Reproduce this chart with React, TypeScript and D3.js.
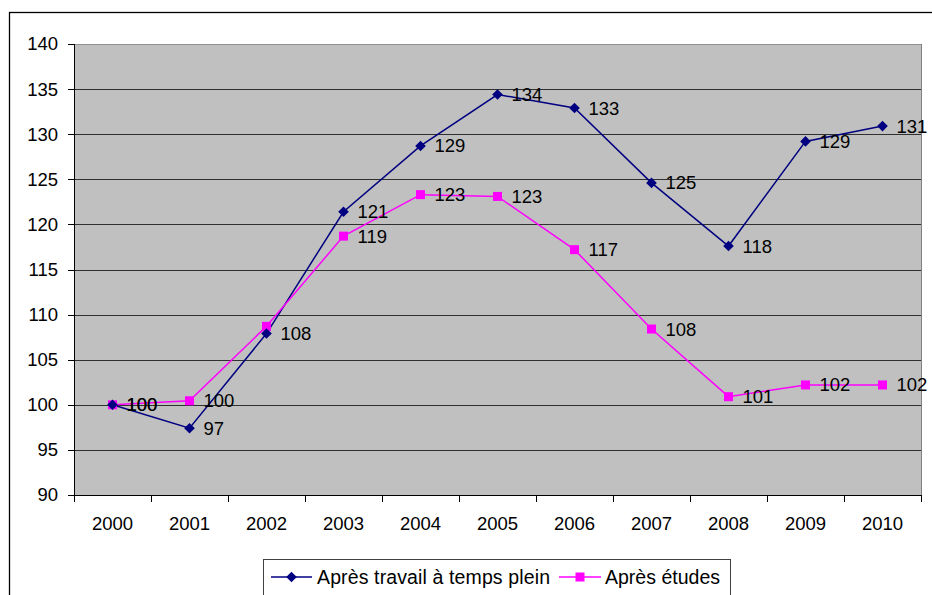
import React from "react";
import * as d3 from "d3";

const years = ["2000", "2001", "2002", "2003", "2004", "2005", "2006", "2007", "2008", "2009", "2010"];
const travailValues = [100, 97.4, 107.9, 121.4, 128.7, 134.4, 132.9, 124.6, 117.6, 129.2, 130.9];
const etudesValues = [100, 100.45, 108.7, 118.7, 123.3, 123.1, 117.2, 108.4, 100.9, 102.2, 102.2];
// data labels that Excel hid because they collided with the other series
const etudesHiddenLabels = ["2002"];
const yTicks = [90, 95, 100, 105, 110, 115, 120, 125, 130, 135, 140];
const seriesNames = ["Après travail à temps plein", "Après études"];

const W = 932;
const H = 595;
const plot = { left: 74, top: 44, right: 921, bottom: 495 };
const FONT = "Arial, 'Liberation Sans', sans-serif";
const FS = 18.5;
const NAVY = "#000080";
const MAGENTA = "#FF00FF";

export default function App() {
  const x = d3.scaleBand<string>().domain(years).range([plot.left, plot.right]);
  const y = d3.scaleLinear().domain([90, 140]).range([plot.bottom, plot.top]);
  const cx = (yr: string) => (x(yr) as number) + x.bandwidth() / 2;

  const line = d3
    .line<number>()
    .x((_, i) => cx(years[i]))
    .y((v) => y(v));

  const diamond = (px: number, py: number, r = 5.3) =>
    `M${px},${py - r}L${px + r},${py}L${px},${py + r}L${px - r},${py}Z`;

  const fmt = (v: number) => String(Math.round(v));

  const boundaries = years.map((yr) => x(yr) as number).concat([plot.right]);

  return (
    <svg
      width={W}
      height={H}
      style={{ position: "absolute", left: 0, top: 0, background: "#fff" }}
      fontFamily={FONT}
    >
      {/* chart frame */}
      <rect x={9.5} y={12.5} width={960} height={620} fill="#fff" stroke="#000" strokeWidth={1.3} />

      {/* plot area */}
      <rect x={plot.left} y={plot.top} width={plot.right - plot.left} height={plot.bottom - plot.top} fill="#C0C0C0" />
      {yTicks.map((t) => (
        <line key={"g" + t} x1={plot.left} x2={plot.right} y1={Math.round(y(t)) + 0.5} y2={Math.round(y(t)) + 0.5} stroke={t === 140 ? "#808080" : "#000"} strokeWidth={1} opacity={t === 90 ? 1 : 0.75} />
      ))}
      <line x1={plot.right + 0.5} x2={plot.right + 0.5} y1={plot.top} y2={plot.bottom} stroke="#808080" />

      {/* y axis */}
      <line x1={plot.left + 0.5} x2={plot.left + 0.5} y1={plot.top} y2={plot.bottom + 1} stroke="#000" />
      {yTicks.map((t) => (
        <g key={"yt" + t}>
          <line x1={plot.left - 6} x2={plot.left} y1={Math.round(y(t)) + 0.5} y2={Math.round(y(t)) + 0.5} stroke="#000" />
          <text x={plot.left - 16} y={y(t)} dy="0.35em" textAnchor="end" fontSize={FS} fill="#000">
            {t}
          </text>
        </g>
      ))}

      {/* x axis */}
      <line x1={plot.left} x2={plot.right + 1} y1={plot.bottom + 0.5} y2={plot.bottom + 0.5} stroke="#000" />
      {boundaries.map((b, i) => (
        <line key={"xt" + i} x1={Math.round(b) + 0.5} x2={Math.round(b) + 0.5} y1={plot.bottom} y2={plot.bottom + 7} stroke="#000" />
      ))}
      {years.map((yr) => (
        <text key={"xl" + yr} x={cx(yr)} y={524} dy="0.35em" textAnchor="middle" fontSize={FS} fill="#000">
          {yr}
        </text>
      ))}

      {/* series lines */}
      <path d={line(travailValues) || ""} fill="none" stroke={NAVY} strokeWidth={1.5} />
      <path d={line(etudesValues) || ""} fill="none" stroke={MAGENTA} strokeWidth={1.5} />

      {/* markers */}
      {etudesValues.map((v, i) => (
        <rect key={"em" + i} x={cx(years[i]) - 4.5} y={y(v) - 4.5} width={9} height={9} fill={MAGENTA} />
      ))}
      {travailValues.map((v, i) => (
        <path key={"tm" + i} d={diamond(cx(years[i]), y(v))} fill={NAVY} />
      ))}

      {/* data labels */}
      {etudesValues.map((v, i) =>
        etudesHiddenLabels.includes(years[i]) ? null : (
          <text key={"el" + i} x={cx(years[i]) + 14} y={y(v)} dy="0.35em" fontSize={FS} fill="#000">
            {fmt(v)}
          </text>
        )
      )}
      {travailValues.map((v, i) => (
        <text key={"tl" + i} x={cx(years[i]) + 14} y={y(v)} dy="0.35em" fontSize={FS} fill="#000">
          {fmt(v)}
        </text>
      ))}

      {/* legend */}
      <rect x={263.5} y={559.5} width={467} height={36} fill="#fff" stroke="#404040" strokeWidth={1} />
      <line x1={271} x2={312} y1={577} y2={577} stroke={NAVY} strokeWidth={1.5} />
      <path d={diamond(291.5, 577)} fill={NAVY} />
      <text x={317} y={577} dy="0.35em" fontSize={FS + 1} textLength={233} lengthAdjust="spacing" fill="#000">
        {seriesNames[0]}
      </text>
      <line x1={559} x2={601} y1={577} y2={577} stroke={MAGENTA} strokeWidth={1.5} />
      <rect x={575.5} y={572.5} width={9} height={9} fill={MAGENTA} />
      <text x={605} y={577} dy="0.35em" fontSize={FS + 1} textLength={115} lengthAdjust="spacing" fill="#000">
        {seriesNames[1]}
      </text>
    </svg>
  );
}
